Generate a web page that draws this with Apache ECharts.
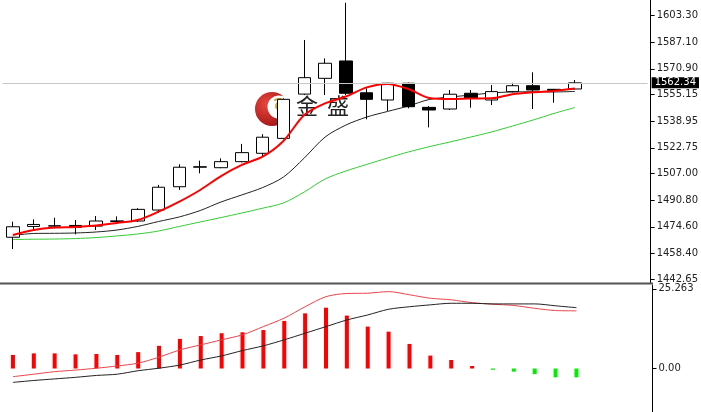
<!DOCTYPE html>
<html>
<head>
<meta charset="utf-8">
<script src="https://cdn.jsdelivr.net/npm/echarts@6/dist/echarts.min.js"></script>
<style>
html,body{margin:0;padding:0;background:#fff;}
#c{width:701px;height:412px;}
</style>
</head>
<body>
<div id="c"></div>
<script>
// ---- data ----
var categories = ['1','2','3','4','5','6','7','8','9','10','11','12','13','14','15','16','17','18','19','20','21','22','23','24','25','26','27','28','','',''];
var opens  = [1468.2,1474.8,1475.0,1475.4,1475.0,1477.8,1478.1,1484.8,1499.0,1510.9,1510.6,1514.3,1519.4,1528.5,1555.5,1565.1,1575.7,1556.3,1551.9,1562.1,1547.4,1546.4,1556.0,1551.9,1557.0,1560.6,1558.4,1558.6];
var closes = [1474.6,1476.0,1475.2,1474.3,1478.1,1478.2,1485.2,1498.7,1510.9,1511.2,1514.3,1519.8,1529.2,1552.3,1565.5,1574.3,1556.0,1552.3,1562.1,1547.8,1545.8,1555.4,1552.9,1557.0,1560.6,1558.0,1557.8,1562.34];
var lows   = [1461.0,1472.6,1473.6,1470.0,1472.6,1476.3,1477.5,1483.2,1497.0,1507.2,1510.3,1513.8,1517.3,1528.0,1554.9,1554.9,1554.9,1540.1,1545.2,1546.8,1535.2,1545.8,1547.2,1548.8,1556.5,1546.4,1550.2,1558.3];
var highs  = [1477.7,1479.1,1480.1,1478.7,1481.1,1480.9,1485.9,1500.1,1512.7,1514.9,1516.3,1525.1,1531.0,1552.9,1588.5,1577.3,1611.2,1559.0,1562.4,1562.5,1548.2,1558.0,1558.0,1561.0,1562.4,1568.8,1558.5,1564.1];
var maRed   = [1469.6,1472.6,1474.1,1474.5,1475.4,1476.9,1478.7,1483.8,1489.9,1497.0,1505.5,1512.3,1517.3,1526.9,1542.7,1549.8,1554.0,1559.6,1561.7,1558.6,1553.1,1552.5,1552.8,1552.9,1555.4,1556.6,1557.4,1558.9];
var maBlack = [1469.3,1470.5,1470.6,1470.8,1471.4,1472.6,1474.8,1477.8,1480.6,1484.5,1489.7,1494.0,1498.5,1504.9,1516.5,1529.3,1536.6,1541.5,1544.9,1548.2,1552.2,1553.7,1554.9,1556.2,1556.8,1556.9,1556.8,1557.1];
var maGreen = [1466.8,1467.0,1467.1,1467.4,1468.0,1469.0,1470.2,1472.0,1474.8,1477.5,1480.2,1483.0,1485.9,1489.1,1495.8,1503.7,1508.6,1512.6,1516.5,1520.2,1523.4,1526.3,1529.3,1532.4,1536.0,1539.7,1543.7,1547.3];
var macdHist = [4.3,4.8,4.8,4.5,4.6,4.3,5.2,7.2,9.4,10.3,11.2,11.5,12.2,15.1,17.5,19.3,16.8,13.3,11.7,7.8,4.1,2.7,0.8,-0.4,-1.0,-1.8,-2.8,-2.8];
var macdRed   = [-2.6,-1.8,-1.0,-0.5,0.1,0.8,1.7,3.6,5.9,7.5,9.1,10.7,13.3,16.0,19.6,22.8,23.8,23.9,24.4,23.4,22.3,21.8,20.9,20.4,20.0,19.1,18.4,18.3];
var macdBlack = [-4.4,-3.8,-3.3,-2.8,-2.2,-1.8,-0.7,0.1,1.1,2.7,4.0,5.7,7.2,9.1,11.2,13.3,15.4,17.0,18.8,19.6,20.2,20.7,20.7,20.5,20.5,20.5,19.9,19.3];
var priceTicks = [1442.65,1458.40,1474.60,1490.80,1507.00,1522.75,1538.95,1555.15,1570.90,1587.10,1603.30];
var macdTicks = [0, 25.263];
var lastPrice = 1562.34;
var logoText = ['金','盛'];

// ---- build ----
var candles = opens.map(function(o,i){ return [o, closes[i], lows[i], highs[i]]; });
var labelFont = {fontFamily:'DejaVu Sans', fontSize:10, color:'#222'};

var chart = echarts.init(document.getElementById('c'), null, {renderer:'canvas'});
chart.setOption({
  animation:false,
  backgroundColor:'#ffffff',
  grid:[
    {left:2.5, right:51.5, top:0, height:283},
    {left:2.5, right:51.5, top:285, bottom:0}
  ],
  xAxis:[
    {type:'category', gridIndex:0, data:categories, boundaryGap:true, show:false},
    {type:'category', gridIndex:1, data:categories, boundaryGap:true, show:false}
  ],
  yAxis:[
    {type:'value', gridIndex:0, position:'right', offset:3, min:1440.3, max:1612.87, scale:true,
     axisLine:{show:true, lineStyle:{color:'#000', width:1}},
     axisTick:{show:true, length:4, lineStyle:{color:'#000'}, customValues:priceTicks},
     axisLabel:Object.assign({margin:6, customValues:priceTicks, formatter:function(v){return v.toFixed(2);}}, labelFont),
     splitLine:{show:false}},
    {type:'value', gridIndex:1, position:'right', offset:3, min:-13.8, max:26.5,
     axisLine:{show:true, lineStyle:{color:'#000', width:1}},
     axisTick:{show:true, length:4, lineStyle:{color:'#000'}, customValues:macdTicks},
     axisLabel:Object.assign({margin:6, customValues:macdTicks, formatter:function(v){return v===0?'0.00':v.toFixed(3);}}, labelFont),
     splitLine:{show:false}}
  ],
  graphic:[
    {type:'line', z:1, shape:{x1:0,y1:283.5,x2:653,y2:283.5}, style:{stroke:'#555', lineWidth:2}},
    {type:'circle', z:0, shape:{cx:272, cy:109, r:17},
     style:{fill:new echarts.graphic.RadialGradient(0.35,0.35,0.8,[{offset:0,color:'#e8463c'},{offset:1,color:'#9c0f12'}])}},
    {type:'circle', z:0, shape:{cx:279, cy:107, r:11.5}, style:{fill:'#ffffff'}},
    {type:'arc', z:0, shape:{cx:279, cy:107, r:8, startAngle:-2.2, endAngle:1.6}, style:{stroke:'#c9a227', lineWidth:2, fill:null}},
    {type:'circle', z:0, shape:{cx:279, cy:106, r:4}, style:{fill:'#d4ae2a'}},
    {type:'text', z:0, left:296, top:95, style:{text:logoText[0], font:'22px "Noto Sans CJK SC"', fill:'#222'}},
    {type:'text', z:0, left:327, top:95, style:{text:logoText[1], font:'22px "Noto Sans CJK SC"', fill:'#222'}}
  ],
  series:[
    {type:'candlestick', xAxisIndex:0, yAxisIndex:0, data:candles, barWidth:13, z:3,
     itemStyle:{color:'#ffffff', color0:'#000000', borderColor:'#000000', borderColor0:'#000000', borderWidth:1},
     markLine:{silent:true, symbol:['none','none'], animation:false,
       lineStyle:{color:'#c8c8c8', width:1, type:'solid'},
       label:{position:'end', distance:4, formatter:function(){return lastPrice.toFixed(2);},
              backgroundColor:'#000', color:'#fff', fontFamily:'DejaVu Sans', fontSize:10, padding:[1,3,0,3]},
       data:[{yAxis:lastPrice}]}},
    {type:'line', xAxisIndex:0, yAxisIndex:0, data:maGreen, symbol:'none', smooth:0.3, z:2, lineStyle:{color:'#33cc33', width:1}},
    {type:'line', xAxisIndex:0, yAxisIndex:0, data:maBlack, symbol:'none', smooth:0.3, z:2, lineStyle:{color:'#222222', width:1}},
    {type:'line', xAxisIndex:0, yAxisIndex:0, data:maRed, symbol:'none', smooth:0.3, z:4, lineStyle:{color:'#ff0000', width:2}},
    {type:'bar', xAxisIndex:1, yAxisIndex:1, data:macdHist, barWidth:4,
     itemStyle:{color:function(p){return p.value>=0?'#ff0000':'#00ee00';}}},
    {type:'line', xAxisIndex:1, yAxisIndex:1, data:macdRed, symbol:'none', smooth:0.3, lineStyle:{color:'#e8454b', width:1}},
    {type:'line', xAxisIndex:1, yAxisIndex:1, data:macdBlack, symbol:'none', smooth:0.3, lineStyle:{color:'#222222', width:1}}
  ]
});
</script>
</body>
</html>
